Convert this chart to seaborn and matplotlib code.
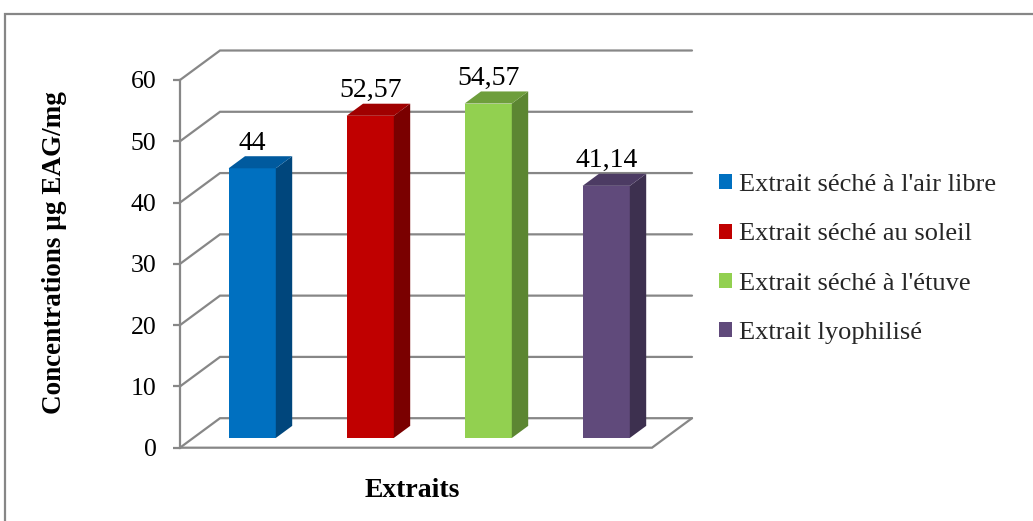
import matplotlib
matplotlib.use("Agg")
import matplotlib.pyplot as plt
import seaborn as sns
import pandas as pd
from matplotlib.patches import Polygon, Patch, Rectangle

# ---- data ----
categories = ["Extrait séché à l'air libre", "Extrait séché au soleil",
              "Extrait séché à l'étuve", "Extrait lyophilisé"]
values = [44, 52.57, 54.57, 41.14]
value_labels = ["44", "52,57", "54,57", "41,14"]
y_ticks = [0, 10, 20, 30, 40, 50, 60]
y_label = "Concentrations µg EAG/mg"
x_label = "Extraits"

front_colors = ["#0070C0", "#C00000", "#92D050", "#604A7B"]
top_colors = ["#005A9E", "#A00000", "#6E9E3C", "#4C3B63"]
side_colors = ["#00467C", "#7A0000", "#5C8632", "#3D304F"]
grid_color = "#878787"

sns.set_theme(style="white")
plt.rcParams['font.family'] = ['Liberation Serif', 'DejaVu Serif']

W, H = 1033, 521
fig = plt.figure(figsize=(W / 100, H / 100), dpi=100)
L, R, T, B = 180, 700, 30, 460
ax = fig.add_axes([L / W, 1 - B / H, (R - L) / W, (B - T) / H])

df = pd.DataFrame({"Extrait": categories, "val": values})
sns.barplot(data=df, x="Extrait", y="val", hue="Extrait", palette=front_colors,
            width=0.4, saturation=1, legend=False, ax=ax, zorder=3)

px_per_x = 118.0
y0_px, y60_px = 447.7, 80.0
px_per_y = (y0_px - y60_px) / 60
x0 = -0.5
nx = len(categories)
ax.set_xlim(x0, x0 + (R - L) / px_per_x)
ax.set_ylim(-(B - y0_px) / px_per_y, (y0_px - T) / px_per_y)

# depth vector (data units) for the full floor depth
dxf = 40 / px_per_x
dyf = 29.5 / px_per_y
d0, d1 = 0.33, 0.74
ox0, oy0 = d0 * dxf, d0 * dyf
ox1, oy1 = d1 * dxf, d1 * dyf

# back wall gridlines + left wall diagonals
x_right = x0 + nx
for yv in y_ticks:
    ax.plot([x0, x0 + dxf, x_right + dxf], [yv, yv + dyf, yv + dyf],
            color=grid_color, lw=1.6, zorder=1, clip_on=False,
            solid_joinstyle='miter')
# floor front edge
ax.plot([x0, x_right, x_right + dxf], [0, 0, dyf], color=grid_color, lw=1.6,
        zorder=1, clip_on=False, solid_joinstyle='miter')

# 3D faces for bars
for i, bar in enumerate(ax.patches):
    x = bar.get_x()
    w = bar.get_width()
    h = bar.get_height()
    bar.set_x(x + ox0)
    bar.set_y(oy0)
    bar.set_linewidth(0)
    side = Polygon([(x + w + ox0, oy0), (x + w + ox1, oy1),
                    (x + w + ox1, h + oy1), (x + w + ox0, h + oy0)],
                   closed=True, facecolor=side_colors[i], edgecolor='none', zorder=3)
    top = Polygon([(x + ox0, h + oy0), (x + w + ox0, h + oy0),
                   (x + w + ox1, h + oy1), (x + ox1, h + oy1)],
                  closed=True, facecolor=top_colors[i], edgecolor='none', zorder=3)
    ax.add_patch(side)
    ax.add_patch(top)
    ax.annotate(value_labels[i], (x + ox0 + w / 2, h + oy1), xytext=(0, 0.5),
                textcoords='offset points', ha='center', va='bottom',
                fontsize=20, color='black', zorder=5)

# axes styling
for s in ['top', 'right', 'bottom']:
    ax.spines[s].set_visible(False)
ax.spines['left'].set_bounds(0, 60)
ax.spines['left'].set_color(grid_color)
ax.spines['left'].set_linewidth(1.6)
ax.set_xticks([])
ax.set_yticks(y_ticks)
ax.set_yticklabels([str(t) for t in y_ticks])
ax.tick_params(axis='y', left=True, length=5, width=1.6, color=grid_color,
               direction='out', pad=12, labelsize=18.5, labelcolor='black')
ax.set_facecolor('none')
ax.grid(False)

ax.set_ylabel(y_label, fontsize=19.5, fontweight='bold', color='black')
ax.yaxis.set_label_coords((67 - L) / (R - L), (B - 252.5) / (B - T))
ax.set_xlabel(x_label, fontsize=20, fontweight='bold', color='black')
ax.xaxis.set_label_coords((412 - L) / (R - L), (B - 478) / (B - T))

handles = [Patch(facecolor=c, edgecolor='none') for c in front_colors]
ax.legend(handles, categories, loc='center left',
          bbox_to_anchor=(719 / W, 1 - 259 / H), bbox_transform=fig.transFigure,
          frameon=False, fontsize=19, handlelength=0.5, handleheight=0.5,
          handletextpad=0.25, labelspacing=1.03, borderpad=0, borderaxespad=0)

# outer chart frame
fig.patches.append(Rectangle((4.5 / W, -0.1), 1.2, (H - 14) / H + 0.1,
                             transform=fig.transFigure, fill=False,
                             edgecolor='#868686', lw=1.6))

fig.savefig("out.png", dpi=100)
